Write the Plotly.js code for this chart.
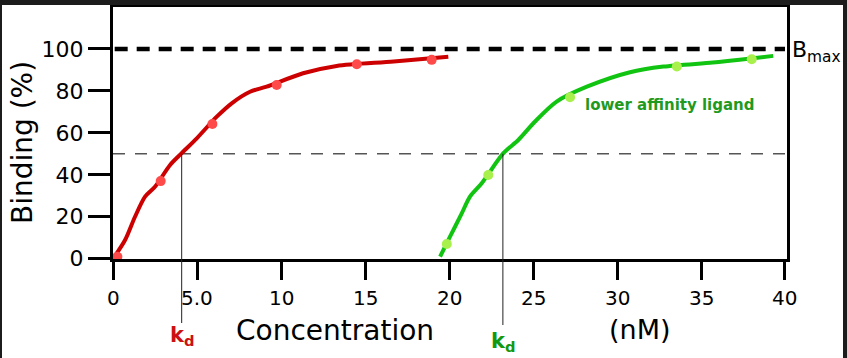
<!DOCTYPE html>
<html>
<head>
<meta charset="utf-8">
<script src="https://cdn.plot.ly/plotly-3.0.1.min.js"></script>
<style>
  html, body { margin: 0; padding: 0; background: #1c1c1c; width: 847px; height: 358px; overflow: hidden; }
  #chart { position: absolute; left: 2px; top: 5px; width: 841px; height: 353px; background: #fff; }
</style>
</head>
<body>
<div id="chart"></div>
<script>
// ---- data ----
var redCurveX = [0.0, 0.7, 1.29, 1.89, 2.48, 3.38, 4.07, 4.97, 6.16, 7.05, 8.14, 9.13, 11.3, 13.3, 16.7, 19.95];
var redCurveY = [0.2, 8.9, 20.0, 29.6, 34.3, 44.7, 50.3, 57.4, 67.7, 74.1, 79.6, 82.0, 88.4, 91.9, 94.0, 96.3];
var redPointsX = [0.24, 2.82, 5.9, 9.73, 14.5, 18.96];
var redPointsY = [0.95, 37.0, 64.2, 82.8, 92.7, 94.8];

var greenCurveX = [19.46, 20.05, 20.75, 21.24, 21.94, 23.23, 24.12, 25.1, 26.4, 28.2, 30.77, 32.76, 35.7, 37.3, 39.3];
var greenCurveY = [0.95, 10.5, 21.6, 29.6, 36.0, 50.3, 56.6, 65.3, 74.9, 82.0, 88.9, 91.6, 93.5, 94.8, 96.7];
var greenPointsX = [19.86, 22.33, 27.2, 33.56, 38.02];
var greenPointsY = [7.0, 39.9, 77.0, 91.6, 95.1];

var kdRed = 4.07;
var kdGreen = 23.2;
var halfLevel = 50;
var bmaxLevel = 100;

var xTickVals = [0, 5, 10, 15, 20, 25, 30, 35, 40];
var xTickText = ['0', '5.0', '10', '15', '20', '25', '30', '35', '40'];
var yTickVals = [0, 20, 40, 60, 80, 100];
var yTickText = ['0', '20', '40', '60', '80', '100'];

var xRange = [-0.02, 40.12];
var yRange = [-0.14, 120];

// ---- traces ----
var traces = [
  { x: [xRange[0] + 0.1, 40], y: [bmaxLevel, bmaxLevel], mode: 'lines',
    line: { color: '#000', width: 4.5, dash: '13px,9px' }, hoverinfo: 'skip' },
  { x: [xRange[0], xRange[1]], y: [halfLevel, halfLevel], mode: 'lines',
    line: { color: '#555', width: 1.5, dash: '12px,10px' }, hoverinfo: 'skip' },
  { x: redCurveX, y: redCurveY, mode: 'lines', line: { color: '#cc0000', width: 4, shape: 'spline', smoothing: 0.8 } },
  { x: redPointsX, y: redPointsY, mode: 'markers', marker: { color: '#ff4a4a', size: 10 }, cliponaxis: false },
  { x: greenCurveX, y: greenCurveY, mode: 'lines', line: { color: '#11c411', width: 4, shape: 'spline', smoothing: 0.8 } },
  { x: greenPointsX, y: greenPointsY, mode: 'markers', marker: { color: '#a8f04c', size: 10 }, cliponaxis: false }
];

var yPaper = function (v) { return (v - yRange[0]) / (yRange[1] - yRange[0]); };

var annotations = [
  { text: 'Binding (%)', textangle: -90, xref: 'paper', yref: 'paper', x: 0, y: 0.46,
    xanchor: 'center', yanchor: 'middle', xshift: -91, showarrow: false,
    font: { size: 28, color: '#000' } },
  { text: 'Concentration', xref: 'x', yref: 'paper', x: 13.2, y: 0, xanchor: 'center', yanchor: 'middle',
    yshift: -71, showarrow: false, font: { size: 28, color: '#000' } },
  { text: '(nM)', xref: 'x', yref: 'paper', x: 31.36, y: 0, xanchor: 'center', yanchor: 'middle',
    yshift: -70, showarrow: false, font: { size: 27, color: '#000' } },
  { text: '<b>k<sub>d</sub></b>', xref: 'x', yref: 'paper', x: kdRed, y: 0, xanchor: 'center', yanchor: 'middle',
    yshift: -77, showarrow: false, font: { size: 21, color: '#cc1111' } },
  { text: '<b>k<sub>d</sub></b>', xref: 'x', yref: 'paper', x: kdGreen, y: 0, xanchor: 'center', yanchor: 'middle',
    yshift: -83, showarrow: false, font: { size: 21, color: '#119911' } },
  { text: 'B<sub>max</sub>', xref: 'paper', yref: 'y', x: 1, y: bmaxLevel, xanchor: 'left', yanchor: 'middle',
    xshift: 3, yshift: -3, showarrow: false, font: { size: 22, color: '#000' } },
  { text: '<b>lower affinity ligand</b>', xref: 'x', yref: 'y', x: 27.97, y: 73.3, xanchor: 'left', yanchor: 'middle',
    showarrow: false, font: { size: 15, color: '#1f9a1f' } }
];
// x tick labels drawn as annotations at the axis tick values
xTickVals.forEach(function (v, i) {
  annotations.push({ text: xTickText[i], xref: 'x', yref: 'paper', x: v, y: 0,
    xanchor: 'center', yanchor: 'middle', yshift: -39, showarrow: false,
    font: { size: 20, color: '#000' } });
});

var layout = {
  width: 841, height: 353,
  margin: { l: 111, r: 56, t: 2, b: 99 },
  paper_bgcolor: '#fff', plot_bgcolor: '#fff',
  showlegend: false,
  font: { family: 'DejaVu Sans, sans-serif', color: '#000', size: 18 },
  xaxis: {
    range: xRange, showgrid: false, zeroline: false,
    showline: true, linewidth: 3, linecolor: '#000', mirror: true,
    ticks: 'outside', ticklen: 18, tickwidth: 3, tickcolor: '#000',
    tickmode: 'array', tickvals: xTickVals, showticklabels: false
  },
  yaxis: {
    range: yRange, showgrid: false, zeroline: false,
    showline: true, linewidth: 3, linecolor: '#000', mirror: true,
    ticks: 'outside', ticklen: 22, tickwidth: 3, tickcolor: '#000',
    tickmode: 'array', tickvals: yTickVals, ticktext: yTickText,
    tickfont: { family: 'DejaVu Sans, sans-serif', size: 22, color: '#000' }
  },
  shapes: [
    { type: 'line', xref: 'x', yref: 'paper', x0: kdRed, x1: kdRed, y0: yPaper(halfLevel), y1: -0.254,
      line: { color: '#222', width: 1 } },
    { type: 'line', xref: 'x', yref: 'paper', x0: kdGreen, x1: kdGreen, y0: yPaper(halfLevel), y1: -0.262,
      line: { color: '#222', width: 1 } }
  ],
  annotations: annotations
};

Plotly.newPlot('chart', traces, layout, { displayModeBar: false, staticPlot: true });
</script>
</body>
</html>
